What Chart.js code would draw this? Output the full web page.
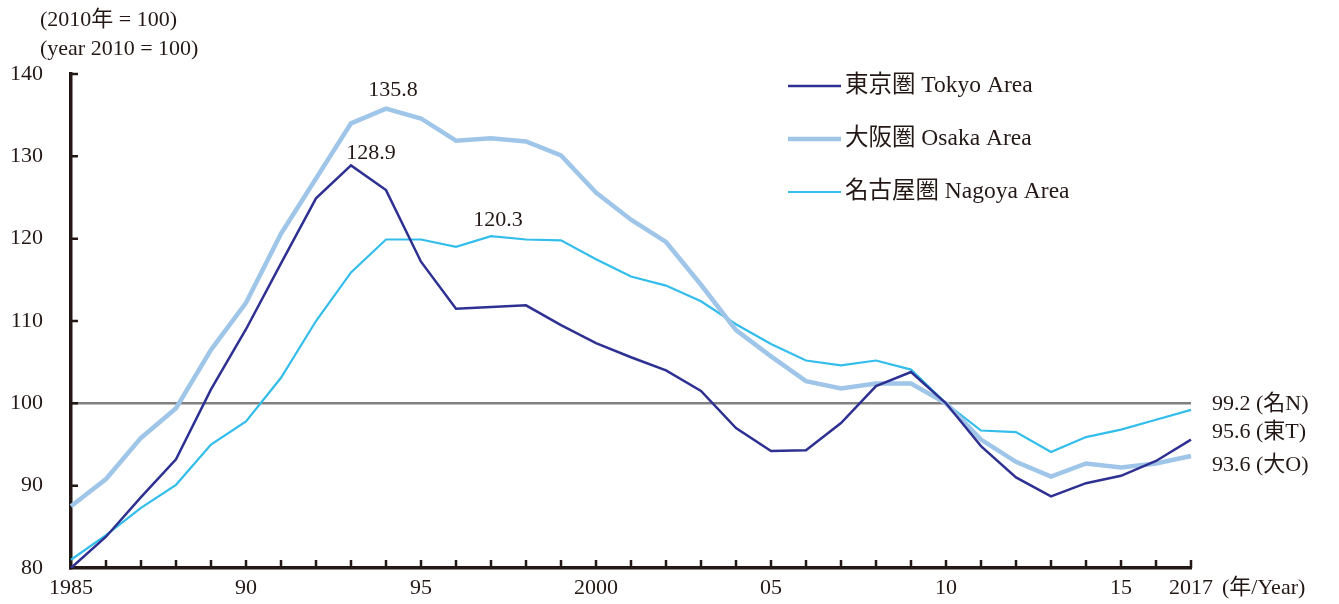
<!DOCTYPE html>
<html>
<head>
<meta charset="utf-8">
<script src="https://cdn.jsdelivr.net/npm/chart.js@4"></script>
<style>
  body { margin: 0; background: #fff; }
  canvas { display: block; }
</style>
</head>
<body>
<canvas id="priceChart" width="1339" height="604"></canvas>
<script>
const years = [1985, 1986, 1987, 1988, 1989, 1990, 1991, 1992, 1993, 1994, 1995, 1996, 1997, 1998, 1999, 2000,
    2001, 2002, 2003, 2004, 2005, 2006, 2007, 2008, 2009, 2010, 2011, 2012, 2013, 2014, 2015, 2016, 2017];
const tokyo = [80.0, 83.8, 88.6, 93.2, 101.7, 109.0, 117.0, 124.9, 128.9, 125.9, 117.2, 111.5, 111.7, 111.9, 109.5, 107.3,
    105.6, 104.0, 101.5, 97.0, 94.2, 94.3, 97.6, 102.1, 103.8, 100.0, 94.8, 91.0, 88.7, 90.3, 91.2, 93.0, 95.6];
const osaka = [87.5, 90.8, 95.8, 99.4, 106.5, 112.2, 120.6, 127.3, 134.0, 135.8, 134.6, 131.9, 132.2, 131.8, 130.1, 125.6,
    122.3, 119.6, 114.4, 108.9, 105.7, 102.7, 101.8, 102.4, 102.4, 100.0, 95.6, 92.9, 91.1, 92.7, 92.2, 92.7, 93.6];
const nagoya = [81.0, 84.0, 87.3, 90.1, 95.0, 97.8, 103.1, 110.0, 115.9, 119.9, 119.9, 119.0, 120.3, 119.9, 119.8, 117.5,
    115.4, 114.3, 112.4, 109.6, 107.2, 105.2, 104.6, 105.2, 104.1, 100.0, 96.7, 96.5, 94.1, 95.9, 96.8, 98.0, 99.2];
const seriesNames = ['東京圏 Tokyo Area', '大阪圏 Osaka Area', '名古屋圏 Nagoya Area'];
const endTags = ['(東T)', '(大O)', '(名N)'];
const tickYears = [1985, 1990, 1995, 2000, 2005, 2010, 2015, 2017];
const tickText = ['1985', '90', '95', '2000', '05', '10', '15', '2017'];
const yTicks = [80, 90, 100, 110, 120, 130, 140];

const ink = '#231815';
const font = (s) => s + 'px "Liberation Serif", "Noto Sans CJK JP", serif';

// how each dataset's extra labels sit (peak label and right-hand end label)
const deco = [
    { peakDx: 20, peakDy: -6, endDy: -7 },
    { peakDx: 7, peakDy: -13, endDy: 9 },
    { peakDx: 7, peakDy: -10, endDy: -6 }
];

const extras = {
    id: 'extras',
    afterDraw(chart) {
        const { ctx, chartArea, scales: { x, y } } = chart;
        ctx.save();
        ctx.strokeStyle = ink;
        ctx.lineWidth = 2.5;
        // inward tick marks
        ctx.beginPath();
        for (let i = 1; i < years.length; i++) {
            const px = x.getPixelForValue(i);
            ctx.moveTo(px, chartArea.bottom);
            ctx.lineTo(px, chartArea.bottom - 8);
        }
        yTicks.slice(1).forEach(v => {
            const py = y.getPixelForValue(v);
            ctx.moveTo(chartArea.left, py);
            ctx.lineTo(chartArea.left + 7, py);
        });
        ctx.stroke();

        ctx.fillStyle = ink;
        ctx.textBaseline = 'alphabetic';

        chart.data.datasets.forEach((ds, i) => {
            const meta = chart.getDatasetMeta(i);
            // peak value label
            let m = 0;
            ds.data.forEach((v, k) => { if (v > ds.data[m]) m = k; });
            const pt = meta.data[m];
            ctx.font = font(22);
            ctx.textAlign = 'center';
            ctx.fillText(ds.data[m].toFixed(1), pt.x + deco[i].peakDx, pt.y + deco[i].peakDy);
            // end label
            const last = ds.data.length - 1;
            ctx.textAlign = 'left';
            ctx.textBaseline = 'middle';
            ctx.fillText(ds.data[last].toFixed(1) + ' ' + endTags[i], chartArea.right + 21,
                y.getPixelForValue(ds.data[last]) + deco[i].endDy);
            ctx.textBaseline = 'alphabetic';

            // legend
            const ly = 86 + i * 53;
            ctx.strokeStyle = ds.borderColor;
            ctx.lineWidth = ds.borderWidth;
            ctx.beginPath();
            ctx.moveTo(788, ly);
            ctx.lineTo(841, ly);
            ctx.stroke();
            ctx.font = font(23.5);
            ctx.textBaseline = 'middle';
            ctx.fillText(ds.label, 845, ly);
            ctx.textBaseline = 'alphabetic';
        });

        // unit notes
        ctx.font = font(22);
        ctx.textAlign = 'left';
        ctx.textBaseline = 'middle';
        ctx.fillText('(2010年 = 100)', 40, 20);
        ctx.fillText('(year 2010 = 100)', 40, 49);
        ctx.fillText('(年/Year)', 1222, 588);
        ctx.restore();
    }
};

const ctx = document.getElementById('priceChart').getContext('2d');
new Chart(ctx, {
    type: 'line',
    data: {
        labels: years.map(String),
        datasets: [
            { label: seriesNames[0], data: tokyo, borderColor: '#2E3192', borderWidth: 2.5 },
            { label: seriesNames[1], data: osaka, borderColor: '#9FC5E8', borderWidth: 4.5 },
            { label: seriesNames[2], data: nagoya, borderColor: '#33BDEA', borderWidth: 2.2 }
        ]
    },
    options: {
        responsive: false,
        animation: false,
        devicePixelRatio: 1,
        layout: { padding: { left: 0, right: 148, top: 74, bottom: 0 } },
        elements: {
            point: { radius: 0 },
            line: { tension: 0, fill: false }
        },
        plugins: {
            legend: { display: false },
            tooltip: { enabled: false }
        },
        scales: {
            x: {
                afterFit: (s) => { s.height = 36; },
                grid: { drawOnChartArea: false, drawTicks: false },
                border: { color: ink, width: 3.5 },
                ticks: {
                    autoSkip: false,
                    maxRotation: 0,
                    padding: 7,
                    color: ink,
                    font: { family: '"Liberation Serif", serif', size: 22 },
                    callback: (val, idx) => {
                        const k = tickYears.indexOf(years[idx]);
                        return k >= 0 ? tickText[k] : '';
                    }
                }
            },
            y: {
                min: 80,
                max: 140,
                afterFit: (s) => { s.width = 71; },
                grid: {
                    drawTicks: true,
                    tickLength: 25,
                    tickColor: 'rgba(0,0,0,0)',
                    color: (c) => c.tick && c.tick.value === 100 ? '#808080' : 'rgba(0,0,0,0)',
                    lineWidth: 2.5
                },
                border: { color: ink, width: 3.5 },
                ticks: {
                    stepSize: 10,
                    padding: 3,
                    color: ink,
                    font: { family: '"Liberation Serif", serif', size: 22 }
                }
            }
        }
    },
    plugins: [extras]
});
</script>
</body>
</html>
